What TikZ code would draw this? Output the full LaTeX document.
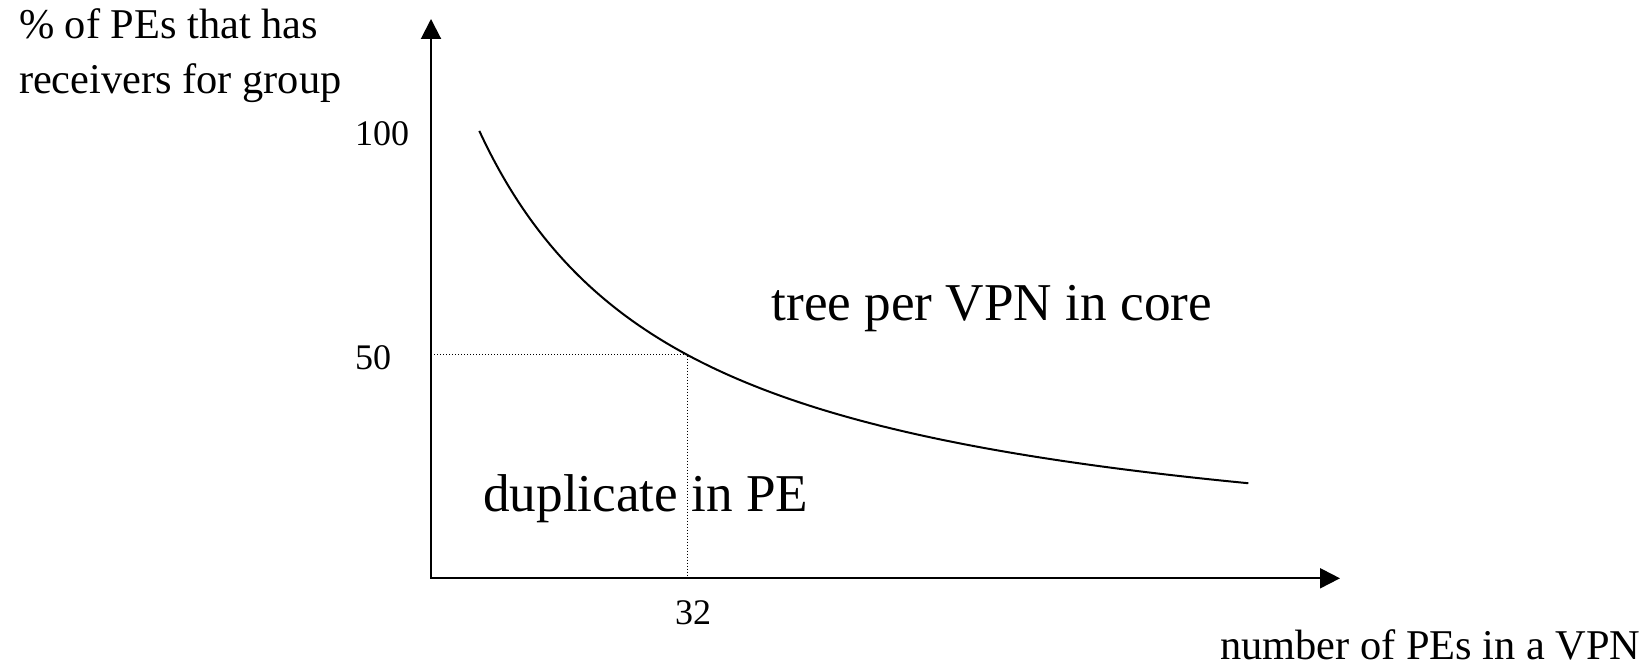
\documentclass[tikz,border=0pt]{standalone}
\usepackage{fontspec}
\setmainfont{Liberation Serif}
\usetikzlibrary{arrows.meta}
\begin{document}
\begin{tikzpicture}[x=0.5pt,y=-0.5pt,
  lbl/.style={inner sep=0pt,outer sep=0pt,text=black},
  axislabel/.style={lbl,font=\fontsize{21.2}{27.5}\selectfont},
  ticklabel/.style={lbl,font=\fontsize{18}{22}\selectfont},
  regionlabel/.style={lbl,font=\fontsize{26.6}{32}\selectfont},
  axisline/.style={line width=1pt,{Triangle[length=10pt,width=10pt]}-{Triangle[length=10pt,width=10pt]}},
  guide/.style={line width=0.5pt,dash pattern=on 0.5pt off 1pt},
  curveline/.style={line width=1pt}]
\useasboundingbox (0,0) rectangle (1647,667);
% axes
\coordinate (O) at (431,578.3);
\coordinate (ytop) at (431,19);
\coordinate (xend) at (1340,578.3);
\draw[axisline] (ytop) -- (O) -- (xend);
% guide lines
\coordinate (g50) at (431,354.3);
\coordinate (gp) at (687.7,354.3);
\coordinate (g32) at (687.7,578.3);
\draw[guide] (g50) -- (gp) -- (g32);
% curve
\draw[curveline] plot[domain=48.3:817.3,samples=120,smooth]
  ({431+\x},{578.3-928.32/((\x+159.2)/100)});
% labels
\node[axislabel,anchor=base west] (ylab1) at (19,38.8) {\% of PEs that has};
\node[axislabel,anchor=base west] (ylab2) at (19,93.4) {receivers for group};
\node[axislabel,anchor=base west] (xlab) at (1220,659) {number of PEs in a VPN};
\node[ticklabel,anchor=base west] (t100) at (355,145.5) {100};
\node[ticklabel,anchor=base west] (t50) at (355,369.3) {50};
\node[ticklabel,anchor=base] (t32) at (693,624) {32};
\node[regionlabel,anchor=base west] (tree) at (771.7,321) {tree per VPN in core};
\node[regionlabel,anchor=base west] (dup) at (483.3,511.7) {duplicate in PE};
\end{tikzpicture}
\end{document}
